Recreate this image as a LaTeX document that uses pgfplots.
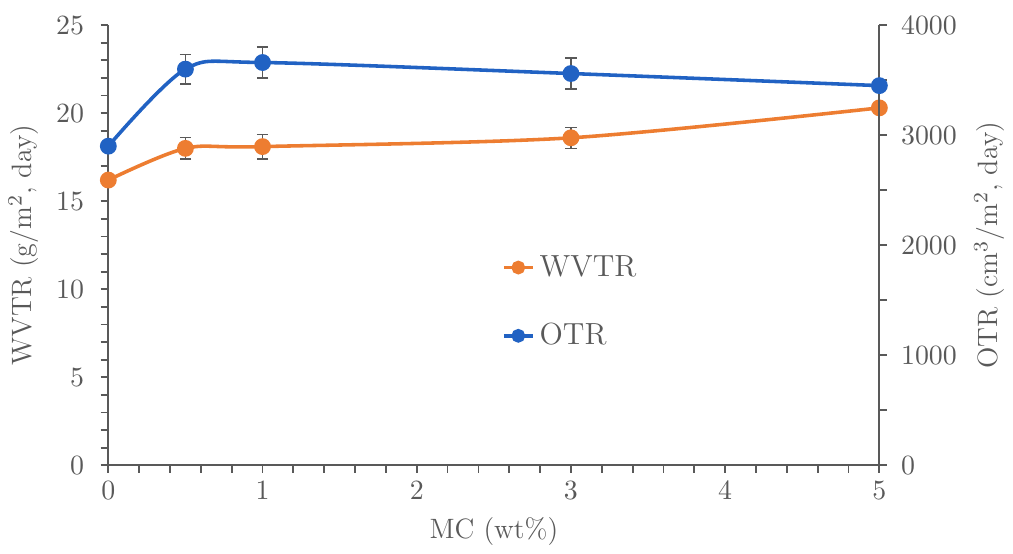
\documentclass[border=0pt]{standalone}
\usepackage{pgfplots}
\pgfplotsset{compat=1.18}
\definecolor{wvtr}{RGB}{237,125,49}
\definecolor{otr}{RGB}{33,98,195}
\definecolor{axgray}{RGB}{89,89,89}
\begin{document}
\begin{tikzpicture}
\pgfplotsset{
  every axis/.append style={
    scale only axis, width=303pt, height=173pt,
    xmin=0, xmax=5,
    axis line style={axgray, line width=0.8pt},
    tick style={axgray, line width=0.7pt},
    tick align=outside,
    major tick length=3pt, minor tick length=3pt,
    tick label style={color=axgray, font=\fontsize{11}{13}\selectfont},
    label style={color=axgray, font=\fontsize{11}{13}\selectfont},
    /pgf/number format/1000 sep={},
  },
  ebar/.style={
    error bars/y dir=both, error bars/y explicit,
    error bars/error bar style={axgray, line width=0.5pt},
    error bars/error mark options={rotate=90, mark size=2.2pt, axgray, line width=0.5pt}},
}
\begin{axis}[
  axis y line*=left, axis x line*=bottom,
  ymin=0, ymax=25,
  xtick={0,1,2,3,4,5}, minor x tick num=4,
  ytick={0,5,10,15,20,25}, minor y tick num=4,
  yticklabel style={xshift=-3pt},
  xlabel={MC (wt\%)}, ylabel={WVTR (g/m$^2$, day)},
]
\addplot[wvtr, line width=1.4pt, smooth, mark=*, mark size=2.6pt,
  mark options={fill=wvtr, draw=wvtr}, ebar] coordinates {
  (0,16.2) +- (0,0.2)
  (0.5,18.0) +- (0,0.6)
  (1,18.1) +- (0,0.7)
  (3,18.6) +- (0,0.6)
  (5,20.3) +- (0,0.2)
};
\end{axis}
\begin{axis}[
  axis y line*=right, axis x line=none,
  ymin=0, ymax=4000,
  ytick={0,1000,2000,3000,4000}, minor y tick num=1,
  yticklabel style={xshift=2pt},
  ylabel={OTR (cm$^3$/m$^2$, day)},
  legend style={at={(0.51,0.49)}, anchor=north west, draw=none, fill=none,
    row sep=13pt, font=\fontsize{12}{14}\selectfont, text=axgray,
    inner sep=0pt},
  legend cell align=left,
  legend image code/.code={
    \draw[mark repeat=2, mark phase=2, #1] plot coordinates {(0cm,0cm) (0.2cm,0cm) (0.4cm,0cm)};},
]
\addlegendimage{wvtr, line width=1.4pt, mark=*, mark size=2pt, mark options={fill=wvtr}}
\addlegendentry{WVTR}
\addplot[otr, line width=1.4pt, smooth, mark=*, mark size=2.6pt,
  mark options={fill=otr, draw=otr}, forget plot, ebar] coordinates {
  (0,2900) +- (0,30)
  (0.5,3600) +- (0,135)
  (1,3660) +- (0,140)
  (3,3560) +- (0,140)
  (5,3450) +- (0,30)
};
\addlegendimage{otr, line width=1.4pt, mark=*, mark size=2pt, mark options={fill=otr}}
\addlegendentry{OTR}
\end{axis}
\path (current bounding box.north) ++(0,3pt);
\end{tikzpicture}
\end{document}
